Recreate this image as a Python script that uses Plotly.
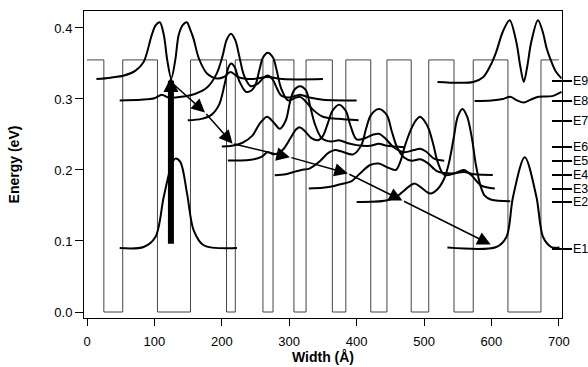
import plotly.graph_objects as go

# ---------------- data ----------------
# potential profile: well edges (Å) and barrier height (eV)
well_left = [25, 104.5, 207, 261, 307, 364, 421, 481, 544.5, 624.5]
well_right = [53, 153.5, 220, 276, 325, 384, 445, 507, 573, 673.5]
barrier_eV = 0.355
structure_end = 700

# energy levels (eV) shown on right axis
level_eV = [0.089, 0.155, 0.173, 0.193, 0.212, 0.232, 0.269, 0.297, 0.326]
level_names = ["E1", "E2", "E3", "E4", "E5", "E6", "E7", "E8", "E9"]

# wavefunctions |psi|^2 offset by level (Å, eV)
e9a_x = [14, 35, 55, 72, 84, 96, 102, 108, 114, 119, 125, 131, 136, 142, 148, 153, 158, 166, 178, 193, 203, 213, 224, 245, 268, 290, 350]
e9a_y = [0.328, 0.330, 0.333, 0.340, 0.352, 0.39, 0.404, 0.408, 0.39, 0.355, 0.329, 0.355, 0.39, 0.404, 0.408, 0.398, 0.385, 0.357, 0.336, 0.329, 0.331, 0.338, 0.331, 0.328, 0.331, 0.328, 0.328]
e9b_x = [520, 573, 588, 600, 607, 617, 627, 637, 643, 648, 653, 659, 669, 676, 682, 690, 696, 704]
e9b_y = [0.324, 0.324, 0.331, 0.35, 0.366, 0.395, 0.411, 0.38, 0.345, 0.324, 0.345, 0.38, 0.411, 0.395, 0.371, 0.35, 0.338, 0.329]
e8a_x = [48.5, 80, 100, 111, 121, 140, 160, 178, 192, 201, 207, 213.5, 220, 226, 233, 243, 254, 262, 268, 275, 288, 300, 316, 330, 350, 400]
e8a_y = [0.298, 0.299, 0.301, 0.306, 0.302, 0.303, 0.307, 0.316, 0.335, 0.36, 0.383, 0.392, 0.383, 0.36, 0.333, 0.318, 0.322, 0.33, 0.333, 0.328, 0.305, 0.302, 0.306, 0.302, 0.299, 0.298]
e8b_x = [575, 600, 617, 628, 638, 648, 658, 670, 690, 704]
e8b_y = [0.297, 0.298, 0.300, 0.303, 0.298, 0.295, 0.299, 0.303, 0.304, 0.310]
e7_x = [149.5, 170, 185, 196, 204, 210, 214, 219, 226, 236, 244, 250, 256, 261, 268, 276, 281, 288, 298, 310, 316, 323, 335, 350, 372, 403]
e7_y = [0.270, 0.272, 0.278, 0.292, 0.32, 0.345, 0.35, 0.345, 0.325, 0.31, 0.312, 0.32, 0.342, 0.358, 0.365, 0.358, 0.342, 0.315, 0.298, 0.302, 0.303, 0.298, 0.285, 0.275, 0.272, 0.270]
e6_x = [200, 215, 230, 245, 256, 267, 276, 286, 295, 301, 307, 316, 325, 331, 338, 348, 362, 374, 386, 400, 420, 433, 445, 471]
e6_y = [0.233, 0.234, 0.238, 0.248, 0.265, 0.275, 0.268, 0.258, 0.27, 0.295, 0.312, 0.318, 0.312, 0.29, 0.265, 0.245, 0.24, 0.242, 0.238, 0.235, 0.234, 0.237, 0.234, 0.232]
e5_x = [209, 240, 258, 268, 278, 290, 302, 310, 316, 323, 333, 343, 350, 357, 364, 374, 384, 391, 400, 413, 425, 433, 442, 455, 470, 485, 494, 503, 515, 530]
e5_y = [0.2135, 0.214, 0.218, 0.225, 0.222, 0.228, 0.245, 0.257, 0.26, 0.255, 0.245, 0.242, 0.248, 0.265, 0.283, 0.292, 0.283, 0.262, 0.243, 0.245, 0.25, 0.251, 0.245, 0.232, 0.225, 0.228, 0.23, 0.226, 0.216, 0.213]
e4_x = [278.5, 295, 310, 318, 330, 345, 358, 368, 378, 395, 407, 414, 421, 433, 445, 452, 460, 470, 482, 494, 505, 520, 540, 559, 575, 602]
e4_y = [0.1925, 0.194, 0.198, 0.2, 0.202, 0.212, 0.224, 0.228, 0.226, 0.222, 0.235, 0.258, 0.277, 0.286, 0.277, 0.255, 0.232, 0.218, 0.213, 0.215, 0.21, 0.198, 0.195, 0.197, 0.194, 0.193]
e3_x = [329, 350, 365, 376, 392, 405, 420, 433, 445, 458, 465, 472, 481, 488, 494, 500, 507, 514, 520, 530, 545, 559, 570, 585, 605]
e3_y = [0.174, 0.175, 0.177, 0.18, 0.184, 0.195, 0.207, 0.209, 0.204, 0.2, 0.212, 0.235, 0.258, 0.27, 0.275, 0.27, 0.258, 0.235, 0.212, 0.193, 0.195, 0.2, 0.193, 0.178, 0.174]
e2_x = [400, 444, 460, 468, 478, 486, 495, 509, 520, 530, 537, 544, 550, 557, 564, 571, 577, 584, 590, 600, 628]
e2_y = [0.155, 0.157, 0.163, 0.169, 0.177, 0.181, 0.176, 0.167, 0.173, 0.188, 0.21, 0.245, 0.275, 0.286, 0.275, 0.245, 0.207, 0.177, 0.164, 0.158, 0.156]
e1a_x = [48.5, 84, 101.5, 113.8, 126, 131, 138.6, 148.4, 158.3, 173, 222.5]
e1a_y = [0.090, 0.0915, 0.1056, 0.162, 0.209, 0.216, 0.211, 0.167, 0.115, 0.094, 0.090]
e1b_x = [534.7, 607.4, 622.3, 632, 649.4, 666.8, 676.6, 689, 701]
e1b_y = [0.0907, 0.0915, 0.1056, 0.162, 0.218, 0.162, 0.1056, 0.0915, 0.0907]

# cascade arrow path (Å, eV) and pump arrow
cascade_x = [127, 175, 216, 301, 387, 468, 599]
cascade_y = [0.322, 0.281, 0.237, 0.218, 0.195, 0.157, 0.095]
pump_x = 124.5
pump_y = [0.094, 0.331]

# ---------------- figure ----------------
pot_x = [0]
pot_y = [barrier_eV]
for a, b in zip(well_left, well_right):
    pot_x += [a, a, b, b]
    pot_y += [barrier_eV, 0, 0, barrier_eV]
pot_x.append(structure_end)
pot_y.append(barrier_eV)

fig = go.Figure()
fig.add_trace(go.Scatter(x=pot_x, y=pot_y, mode="lines",
                         line=dict(color="#444444", width=1), hoverinfo="skip"))

curves = [(e9a_x, e9a_y), (e9b_x, e9b_y), (e8a_x, e8a_y), (e8b_x, e8b_y),
          (e7_x, e7_y), (e6_x, e6_y), (e5_x, e5_y), (e4_x, e4_y),
          (e3_x, e3_y), (e2_x, e2_y), (e1a_x, e1a_y), (e1b_x, e1b_y)]
for cx, cy in curves:
    fig.add_trace(go.Scatter(x=cx, y=cy, mode="lines",
                             line=dict(color="black", width=2, shape="spline", smoothing=0.9),
                             hoverinfo="skip"))

# invisible traces to activate the right-hand tick axes
fig.add_trace(go.Scatter(x=[0], y=[0], yaxis="y2", mode="markers",
                         marker=dict(opacity=0), hoverinfo="skip"))
fig.add_trace(go.Scatter(x=[0], y=[0], yaxis="y3", mode="markers",
                         marker=dict(opacity=0), hoverinfo="skip"))

font = "Liberation Sans, Arial, Helvetica, sans-serif"

annotations = []
for i in range(len(cascade_x) - 1):
    annotations.append(dict(x=cascade_x[i + 1], y=cascade_y[i + 1],
                            ax=cascade_x[i], ay=cascade_y[i],
                            xref="x", yref="y", axref="x", ayref="y",
                            text="", showarrow=True, arrowhead=2,
                            arrowsize=1.8, arrowwidth=1.5, arrowcolor="black",
                            standoff=0, startstandoff=0))
annotations.append(dict(x=pump_x, y=pump_y[1], ax=pump_x, ay=pump_y[0],
                        xref="x", yref="y", axref="x", ayref="y",
                        text="", showarrow=True, arrowhead=2,
                        arrowsize=0.5, arrowwidth=6, arrowcolor="black",
                        standoff=0, startstandoff=0))
# level labels on the right
for lv, nm in zip(level_eV, level_names):
    annotations.append(dict(x=1, y=lv, xref="paper", yref="y", text=nm,
                            showarrow=False, xanchor="left", yanchor="middle",
                            xshift=9, font=dict(size=12.5, family=font, color="black")))

yr = [-0.00845, 0.4239]
fig.update_layout(
    width=588, height=367,
    margin=dict(l=84, r=26, t=11, b=49),
    paper_bgcolor="white", plot_bgcolor="white",
    showlegend=False,
    font=dict(family=font, size=13, color="black"),
    annotations=annotations,
    xaxis=dict(range=[-4.45, 704.7], showgrid=False, zeroline=False, automargin=False,
               showline=True, linecolor="black", linewidth=1, mirror=True,
               ticks="outside", ticklen=7, tickwidth=1, tickcolor="black",
               tickvals=[0, 100, 200, 300, 400, 500, 600, 700], ticklabelstandoff=4,
               title=dict(text="<b>Width (Å)</b>", standoff=0, font=dict(size=14))),
    yaxis=dict(range=yr, showgrid=False, zeroline=False, automargin=False,
               showline=True, linecolor="black", linewidth=1, mirror=True,
               ticks="outside", ticklen=8, tickwidth=1, tickcolor="black",
               tickvals=[0, 0.1, 0.2, 0.3, 0.4], tickformat=".1f",
               title=dict(text="<b>Energy (eV)</b>", standoff=31, font=dict(size=14))),
    yaxis2=dict(range=yr, overlaying="y", side="right", anchor="x", automargin=False,
                showgrid=False, zeroline=False, showline=False,
                ticks="outside", ticklen=9, tickwidth=2, tickcolor="black",
                tickvals=level_eV, showticklabels=False),
    yaxis3=dict(range=yr, overlaying="y", side="right", anchor="x", automargin=False,
                showgrid=False, zeroline=False, showline=False,
                ticks="inside", ticklen=10, tickwidth=2, tickcolor="black",
                tickvals=level_eV, showticklabels=False),
)

fig.write_html("out.html", config={"displayModeBar": False},
               post_script="document.body.style.margin='0px';document.body.style.overflow='hidden';")
